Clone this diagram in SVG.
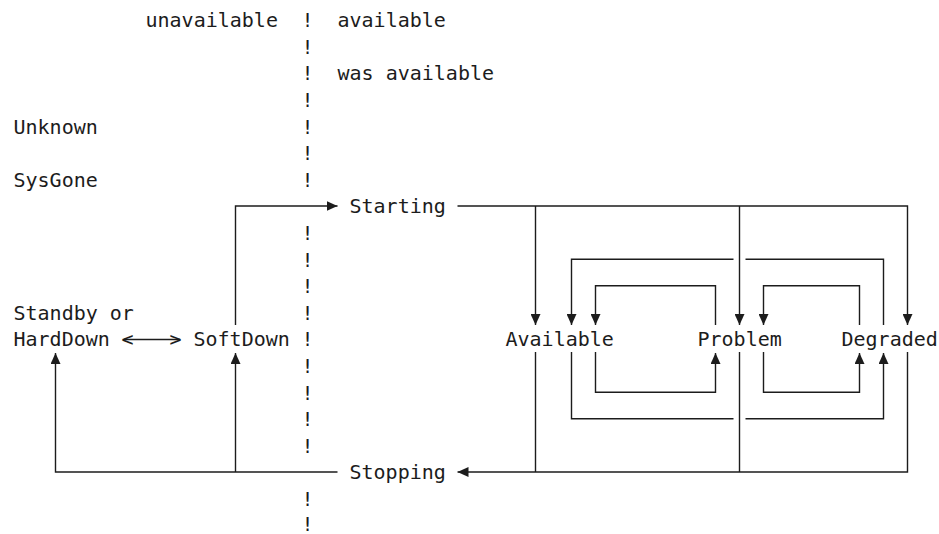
<svg xmlns="http://www.w3.org/2000/svg" width="939" height="534" viewBox="0 0 939 534">
<style>
text{font-family:"DejaVu Sans Mono","Liberation Mono",monospace;font-size:20px;fill:#1c1c1c}
.c{fill:none;stroke:#1c1c1c;stroke-width:1.4}
</style>
<defs>
<marker id="ah" viewBox="0 0 11 10" refX="11" refY="5" markerWidth="11" markerHeight="10" markerUnits="userSpaceOnUse" orient="auto">
<path d="M0,0 L11,5 L0,10 z" fill="#1c1c1c"/>
</marker>
</defs>
<rect width="939" height="534" fill="#fff"/>
<g id="headers">
<text x="145.5" y="27.1">unavailable</text>
<text x="337.5" y="27.1">available</text>
<text x="337.5" y="80.3">was available</text>
</g>
<g id="separator">
<text x="301.5" y="27.1">!</text>
<text x="301.5" y="53.7">!</text>
<text x="301.5" y="80.3">!</text>
<text x="301.5" y="106.9">!</text>
<text x="301.5" y="133.5">!</text>
<text x="301.5" y="160.1">!</text>
<text x="301.5" y="186.7">!</text>
<text x="301.5" y="239.9">!</text>
<text x="301.5" y="266.5">!</text>
<text x="301.5" y="293.1">!</text>
<text x="301.5" y="319.7">!</text>
<text x="301.5" y="346.3">!</text>
<text x="301.5" y="372.9">!</text>
<text x="301.5" y="399.5">!</text>
<text x="301.5" y="426.1">!</text>
<text x="301.5" y="452.7">!</text>
<text x="301.5" y="505.9">!</text>
<text x="301.5" y="530.5">!</text>
</g>
<g id="unknown"><text x="13.5" y="133.5">Unknown</text></g>
<g id="sysgone"><text x="13.5" y="186.7">SysGone</text></g>
<g id="harddown"><text x="13.5" y="319.7">Standby or</text><text x="13.5" y="346.3">HardDown</text></g>
<g id="softdown"><text x="193.5" y="346.3">SoftDown</text></g>
<g id="starting"><text x="349.5" y="213.3">Starting</text></g>
<g id="stopping"><text x="349.5" y="479.3">Stopping</text></g>
<g id="available"><text x="505.5" y="346.3">Available</text></g>
<g id="problem"><text x="697.5" y="346.3">Problem</text></g>
<g id="degraded"><text x="841.5" y="346.3">Degraded</text></g>
<g id="connectors">
<text x="121.5" y="346.3">&lt;</text>
<text x="169.5" y="346.3">&gt;</text>
<line class="c" x1="124" y1="339.5" x2="180" y2="339.5"/>
<path class="c" d="M235.5,325 V206 H337.5" marker-end="url(#ah)"/>
<path class="c" d="M457.5,206 H907.5 V325" marker-end="url(#ah)"/>
<path class="c" d="M535.5,206 V325" marker-end="url(#ah)"/>
<path class="c" d="M739.5,206 V325" marker-end="url(#ah)"/>
<path class="c" d="M907.5,352 V472 H457.5" marker-end="url(#ah)"/>
<path class="c" d="M535.5,352 V472"/>
<path class="c" d="M739.5,352 V472"/>
<path class="c" d="M337.5,472 H55.5 V353" marker-end="url(#ah)"/>
<path class="c" d="M235.5,472 V353" marker-end="url(#ah)"/>
<path class="c" d="M715.5,325 V285.8 H595.5 V325" marker-end="url(#ah)"/>
<path class="c" d="M595.5,352 V392.2 H715.5 V353" marker-end="url(#ah)"/>
<path class="c" d="M883.5,325 V259.2 H745.5 M733.5,259.2 H571.5 V325" marker-end="url(#ah)"/>
<path class="c" d="M571.5,352 V418.8 H733.5 M745.5,418.8 H883.5 V353" marker-end="url(#ah)"/>
<path class="c" d="M859.5,325 V285.8 H763.5 V325" marker-end="url(#ah)"/>
<path class="c" d="M763.5,352 V392.2 H859.5 V353" marker-end="url(#ah)"/>
</g>
</svg>
